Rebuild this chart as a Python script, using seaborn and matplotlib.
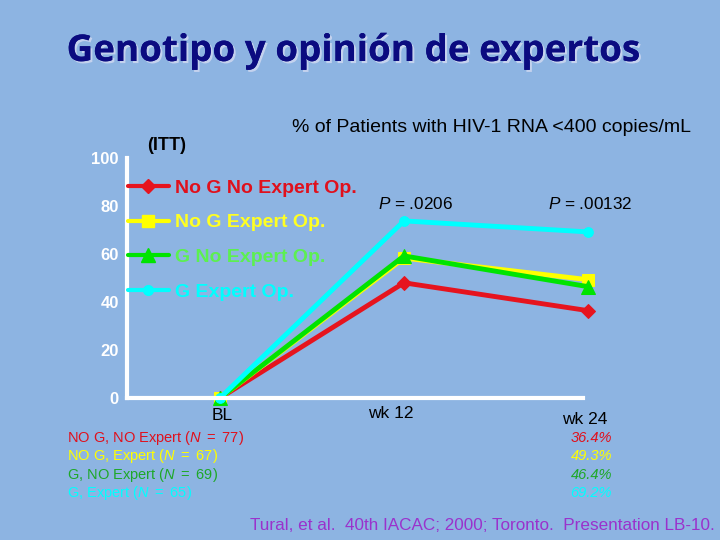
import matplotlib
matplotlib.use("Agg")
import matplotlib.pyplot as plt
import matplotlib.patheffects as pe
import seaborn as sns
import pandas as pd
from matplotlib.lines import Line2D

# Data
timepoints = ["BL", "wk 12", "wk 24"]
groups = ["No G No Expert Op.", "No G Expert Op.", "G No Expert Op.", "G Expert Op."]
no_g_no_exp = [0, 48.0, 36.4]
no_g_exp = [0, 58.3, 49.3]
g_no_exp = [0, 59.2, 46.4]
g_exp = [0, 73.8, 69.2]
p_values = [".0206", ".00132"]
n_labels = ["NO G, NO Expert ", "NO G, Expert ", "G, NO Expert ", "G, Expert "]
n_values = [77, 67, 69, 65]
wk24_pct = ["36.4%", "49.3%", "46.4%", "69.2%"]

BG = "#8DB4E2"
line_colors = ["#E6141E", "#FFFF00", "#00E400", "#00FFFF"]
legend_text_colors = ["#E0101C", "#FFFF22", "#5CF050", "#00FFFF"]
note_colors = ["#E0101C", "#FFFF00", "#1EA828", "#00FFFF"]
markers = ["D", "s", "^", "o"]
msizes = [7, 9, 10, 7]

rows = []
for g, vals in zip(groups, [no_g_no_exp, no_g_exp, g_no_exp, g_exp]):
    for i, v in enumerate(vals):
        rows.append({"group": g, "pos": i, "pct": v})
df = pd.DataFrame(rows)

sns.set_style("white")
plt.rcParams["font.family"] = ["Liberation Sans", "DejaVu Sans"]
plt.rcParams["mathtext.fontset"] = "custom"
plt.rcParams["mathtext.rm"] = "Liberation Sans"
plt.rcParams["mathtext.it"] = "Liberation Sans:italic"

W, H = 720, 540
fig = plt.figure(figsize=(7.2, 5.4), dpi=100, facecolor=BG)


def fx(px):
    return px / W


def fy(py):
    return 1 - py / H


ax = fig.add_axes([fx(127), fy(398), fx(600 - 127), 240 / H])
ax.set_facecolor(BG)

for g, c, m, ms in zip(groups, line_colors, markers, msizes):
    sns.lineplot(data=df[df["group"] == g], x="pos", y="pct", color=c,
                 marker=m, markersize=ms, markeredgecolor=c, linewidth=3.5,
                 ax=ax, clip_on=False, legend=False)

ax.set_xlim(-0.505, 2.065)
ax.set_ylim(0, 100)
ax.set_xlabel("")
ax.set_ylabel("")
ax.set_xticks([])
ax.set_yticks([0, 20, 40, 60, 80, 100])
ax.tick_params(axis="y", length=0, pad=6, labelsize=12, labelcolor="white")
for lab in ax.get_yticklabels():
    lab.set_fontweight("bold")
for s in ["top", "right"]:
    ax.spines[s].set_visible(False)
for s in ["left", "bottom"]:
    ax.spines[s].set_color("white")
    ax.spines[s].set_linewidth(3)
ax.spines["bottom"].set_bounds(-0.505, 1.97)

# x labels (slightly offset like the slide)
xl_pos = [(222, 416), (391, 413), (585, 419)]
for t, (px, py) in zip(timepoints, xl_pos):
    fig.text(fx(px), fy(py), t, ha="center", va="center", fontsize=12.5, color="black")

# legend
handles = [Line2D([], [], color=c, marker=m, markersize=ms, markeredgecolor=c, lw=3)
           for c, m, ms in zip(line_colors, markers, msizes)]
fig.legend(handles, groups, loc="upper left", bbox_to_anchor=(fx(128), fy(179)),
           frameon=False, prop={"weight": "bold", "size": 14},
           labelcolor=legend_text_colors, handlelength=2.1, handletextpad=0.3,
           labelspacing=0.88, borderpad=0, borderaxespad=0)

# titles
fig.text(fx(353), fy(51), "Genotipo y opinión de expertos", ha="center", va="center",
         fontsize=26.5, fontweight="bold", color="#0B0B80", family="Open Sans",
         path_effects=[pe.withSimplePatchShadow(offset=(1.5, -1.5),
                                                shadow_rgbFace="#C4D2EE", alpha=1),
                       pe.Normal()])
fig.text(fx(491), fy(127), "% of Patients with HIV-1 RNA <400 copies/mL",
         ha="center", va="center", fontsize=14, color="black")
fig.text(fx(147), fy(146), "(ITT)", ha="left", va="center", fontsize=13,
         fontweight="bold", color="black")

# p values
for p, (px, py) in zip(p_values, [(378, 204), (548, 204)]):
    fig.text(fx(px), fy(py), r"$\it{P}$ = " + p, ha="left", va="center",
             fontsize=12.3, color="black")

# group sizes and week-24 percentages
for i, (lab, n, pct, c) in enumerate(zip(n_labels, n_values, wk24_pct, note_colors)):
    py = 438 + i * 18.3
    fig.text(fx(67), fy(py), lab + r"$\it{(N\ =\ " + str(n) + r")}$", ha="left",
             va="center", fontsize=10.5, color=c)
    fig.text(fx(612), fy(py), pct, ha="right", va="center", fontsize=10.5,
             style="italic", color=c)

fig.text(fx(715), fy(525), "Tural, et al.  40th IACAC; 2000; Toronto.  Presentation LB-10.",
         ha="right", va="center", fontsize=12.3, color="#9A32CC")

fig.savefig("out.png", dpi=100, facecolor=BG)
